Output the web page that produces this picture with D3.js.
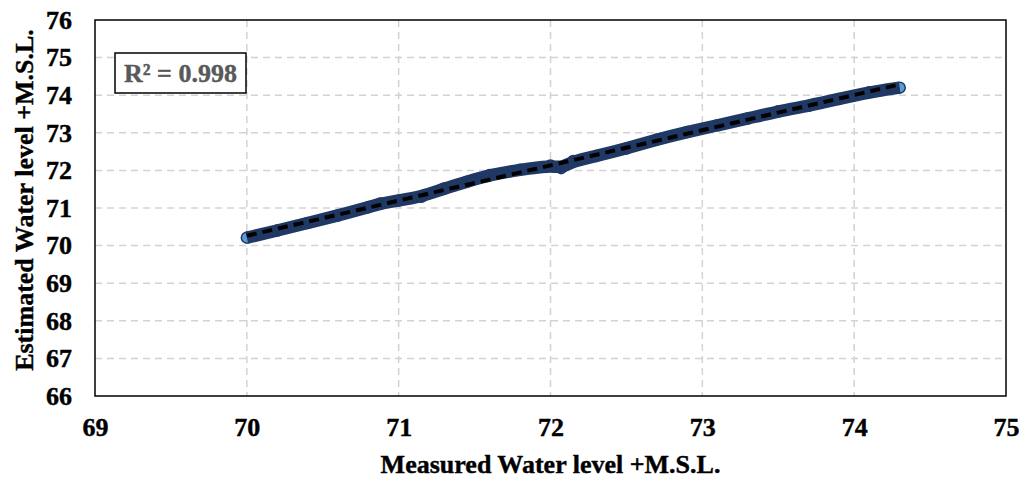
<!DOCTYPE html>
<html>
<head>
<meta charset="utf-8">
<script src="https://cdn.jsdelivr.net/npm/d3@7"></script>
<style>
  html, body { margin: 0; padding: 0; background: #fff; }
  svg { display: block; }
</style>
</head>
<body>
<svg id="chart" width="1023" height="478"></svg>
<script>
// Measured vs. estimated water level (m, +M.S.L.)
const measured  = [70.00, 70.20, 70.40, 70.60, 70.80, 70.88, 71.00, 71.15, 71.30, 71.45, 71.60, 71.80, 72.00, 72.07, 72.15, 72.30, 72.50, 72.70, 72.90, 73.10, 73.30, 73.50, 73.70, 73.90, 74.10, 74.30];
const estimated = [70.21, 70.40, 70.60, 70.80, 71.02, 71.12, 71.20, 71.30, 71.52, 71.70, 71.88, 72.02, 72.13, 72.06, 72.25, 72.38, 72.58, 72.82, 73.02, 73.20, 73.38, 73.57, 73.72, 73.90, 74.08, 74.20];
const xTicks = [69, 70, 71, 72, 73, 74, 75];
const yTicks = [66, 67, 68, 69, 70, 71, 72, 73, 74, 75, 76];
const r2Label = "R² = 0.998";
const xTitle = "Measured Water level +M.S.L.";
const yTitle = "Estimated Water level +M.S.L.";

const points = measured.map((m, i) => ({ x: m, y: estimated[i] }));

const svg = d3.select("#chart");
const margin = { left: 95, right: 17, top: 20, bottom: 82 };
const W = 1023, H = 478;
const innerW = W - margin.left - margin.right;
const innerH = H - margin.top - margin.bottom;

const x = d3.scaleLinear().domain([69, 75]).range([margin.left, margin.left + innerW]);
const y = d3.scaleLinear().domain([66, 76]).range([margin.top + innerH, margin.top]);

const font = "'Liberation Serif', 'Times New Roman', serif";

// gridlines
const grid = svg.append("g");
grid.selectAll("line.v").data(xTicks.slice(1, -1)).join("line")
  .attr("x1", d => x(d)).attr("x2", d => x(d))
  .attr("y1", margin.top).attr("y2", margin.top + innerH)
  .attr("stroke", "#d3d3d3").attr("stroke-width", 1.5).attr("stroke-dasharray", "7,5");
grid.selectAll("line.h").data(yTicks.slice(1, -1)).join("line")
  .attr("x1", margin.left).attr("x2", margin.left + innerW)
  .attr("y1", d => y(d)).attr("y2", d => y(d))
  .attr("stroke", "#d3d3d3").attr("stroke-width", 1.5).attr("stroke-dasharray", "7,5");

// axes (labels only; the frame is drawn separately)
const xAxis = svg.append("g")
  .attr("transform", `translate(0,${margin.top + innerH})`)
  .call(d3.axisBottom(x).tickValues(xTicks).tickSize(0).tickPadding(22).tickFormat(d3.format("d")));
const yAxis = svg.append("g")
  .attr("transform", `translate(${margin.left},0)`)
  .call(d3.axisLeft(y).tickValues(yTicks).tickSize(0).tickPadding(23).tickFormat(d3.format("d")));
[xAxis, yAxis].forEach(a => {
  a.select(".domain").remove();
  a.selectAll("text").attr("font-family", font).attr("font-weight", "bold")
    .attr("font-size", 26).attr("fill", "#000")
    .attr("stroke", "#000").attr("stroke-width", 0.4);
});
xAxis.selectAll("text").attr("dy", "0.71em");

// series markers, then the smoothed connecting line over them
svg.append("g").selectAll("circle").data(points).join("circle")
  .attr("cx", d => x(d.x)).attr("cy", d => y(d.y)).attr("r", 5.5)
  .attr("fill", "#5b9bd5").attr("stroke", "#1f3864").attr("stroke-width", 1.5);

svg.append("path").datum(points)
  .attr("d", d3.line().x(d => x(d.x)).y(d => y(d.y)).curve(d3.curveBasis))
  .attr("fill", "none").attr("stroke", "#1f3864").attr("stroke-width", 12.5)
  .attr("stroke-linecap", "butt").attr("stroke-linejoin", "round");

// linear trendline (least squares)
const mx = d3.mean(points, d => d.x), my = d3.mean(points, d => d.y);
const slope = d3.sum(points, d => (d.x - mx) * (d.y - my)) / d3.sum(points, d => (d.x - mx) ** 2);
const icpt = my - slope * mx;
const x0 = d3.min(measured), x1 = d3.max(measured);
svg.append("line")
  .attr("x1", x(x0)).attr("y1", y(slope * x0 + icpt))
  .attr("x2", x(x1)).attr("y2", y(slope * x1 + icpt))
  .attr("stroke", "#000").attr("stroke-width", 4).attr("stroke-dasharray", "10,6");

// plot frame
svg.append("rect")
  .attr("x", margin.left).attr("y", margin.top).attr("width", innerW).attr("height", innerH)
  .attr("fill", "none").attr("stroke", "#000").attr("stroke-width", 1.5);

// R² box
const box = svg.append("g");
box.append("rect").attr("x", 115).attr("y", 53).attr("width", 131).attr("height", 40)
  .attr("fill", "#fff").attr("stroke", "#000").attr("stroke-width", 1.5);
box.append("text").attr("x", 180.5).attr("y", 73).attr("dy", "0.35em")
  .attr("text-anchor", "middle").attr("font-family", font).attr("font-weight", "bold")
  .attr("font-size", 26).attr("fill", "#595959")
  .attr("stroke", "#595959").attr("stroke-width", 0.4).text(r2Label);

// axis titles
svg.append("text").attr("x", x(72)).attr("y", 464).attr("dy", "0.35em")
  .attr("text-anchor", "middle").attr("font-family", font).attr("font-weight", "bold")
  .attr("font-size", 26).attr("stroke", "#000").attr("stroke-width", 0.4).text(xTitle);
svg.append("text").attr("transform", `translate(24,200) rotate(-90)`)
  .attr("dy", "0.35em").attr("text-anchor", "middle").attr("font-family", font)
  .attr("font-weight", "bold").attr("font-size", 26)
  .attr("stroke", "#000").attr("stroke-width", 0.4).text(yTitle);
</script>
</body>
</html>
